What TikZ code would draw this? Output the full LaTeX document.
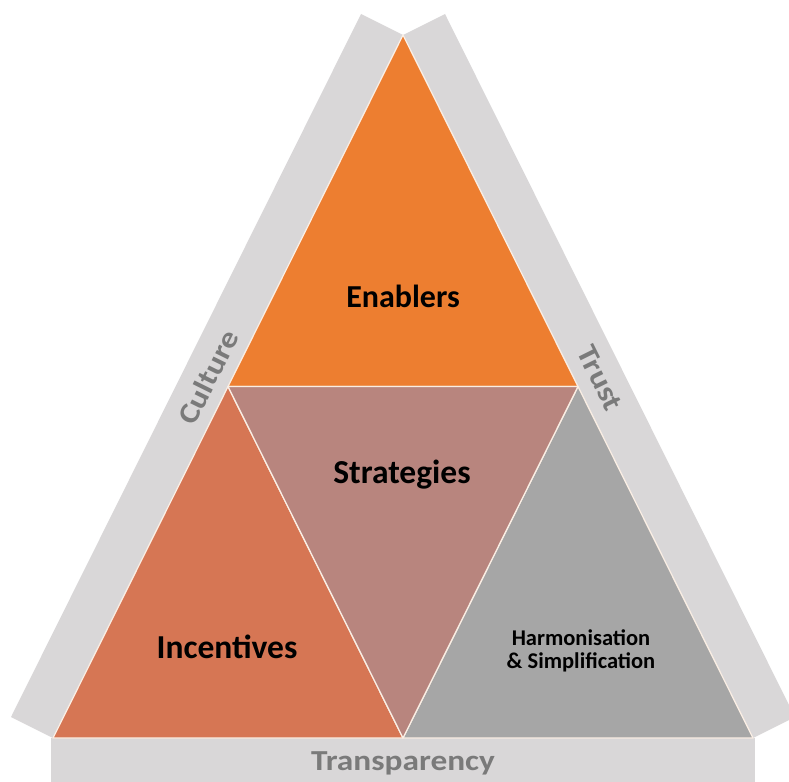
\documentclass[tikz,border=0pt]{standalone}
\usepackage{fontspec}
\setmainfont{Carlito}
\usepackage{tikz}
\usetikzlibrary{positioning,calc}
\definecolor{tgorange}{RGB}{237,126,48}
\definecolor{tgsalmon}{RGB}{214,118,84}
\definecolor{tgrose}{RGB}{184,133,126}
\definecolor{tggrey}{RGB}{166,166,166}
\definecolor{tgband}{RGB}{217,215,216}
\definecolor{tgbandtext}{RGB}{122,122,122}
\definecolor{tgline}{RGB}{250,238,228}
\tikzstyle{band} = [fill=tgband, draw=none]
\tikzstyle{part} = [draw=tgline, line width=1.3pt, line join=round]
\tikzstyle{parttext} = [font=\fontsize{33.5}{36}\selectfont\bfseries, text=black, anchor=base, inner sep=0pt]
\tikzstyle{smalltext} = [font=\fontsize{22.5}{23}\selectfont\bfseries, text=black, align=center, inner sep=0pt]
\tikzstyle{bandtext} = [font=\fontsize{29}{32}\selectfont\bfseries, text=tgbandtext, inner sep=0pt]

\begin{document}
\begin{tikzpicture}[x=1pt, y=-1pt]
\useasboundingbox (0,0) rectangle (789,781);
% Corners
\coordinate (apex) at (403,35);
\coordinate (bl) at (53,738);
\coordinate (br) at (753,738);
\coordinate (ml) at ($(apex)!0.5!(bl)$);
\coordinate (mr) at ($(apex)!0.5!(br)$);
\coordinate (mb) at ($(bl)!0.5!(br)$);

% Bands
\fill[band] (apex) -- (bl) -- ++(-42,-21) -- ($(apex)+(-42,-21)$) -- cycle;
\fill[band] (apex) -- (br) -- ++(42,-21) -- ($(apex)+(42,-21)$) -- cycle;
\fill[band] (51,738) rectangle (755,785);

% Triangles
\filldraw[part, fill=tgorange] (apex) -- (ml) -- (mr) -- cycle;
\filldraw[part, fill=tgsalmon] (ml) -- (bl) -- (mb) -- cycle;
\filldraw[part, fill=tggrey] (mr) -- (mb) -- (br) -- cycle;
\filldraw[part, fill=tgrose] (ml) -- (mr) -- (mb) -- cycle;

% Labels
\node (enablers) [parttext, font=\fontsize{32}{36}\selectfont\bfseries] at (403,307) {Enablers};
\node (strategies) [parttext] at (402,483) {Strategies};
\node (incentives) [parttext] at (227,658) {Incentives};
\node (harmon) [smalltext] at (581,651) {Harmonisation\\\& Simplification};

% Band labels
\node (culture) [bandtext, rotate=63.6, xscale=1.15] at (208,377) {Culture};
\node (trust) [bandtext, rotate=-63.6, xscale=1.15] at (600,378) {Trust};
\node (transp) [bandtext, anchor=base, xscale=1.15] at (403,770) {Transparency};
\end{tikzpicture}
\end{document}
